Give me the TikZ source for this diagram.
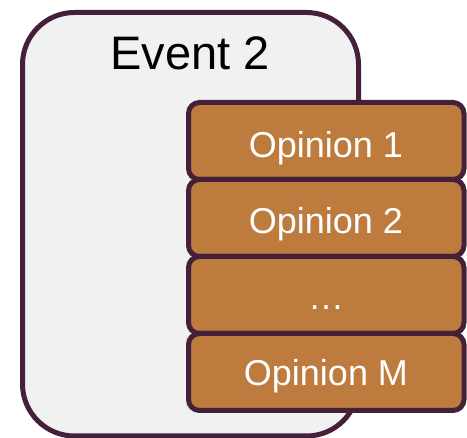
\documentclass[tikz,border=0pt]{standalone}
\usepackage{fontspec}
\setmainfont{Liberation Sans}
\definecolor{edgecol}{RGB}{68,32,58}
\definecolor{opbrown}{RGB}{189,124,62}
\definecolor{evgrey}{RGB}{241,241,241}
\begin{document}
\begin{tikzpicture}[x=1pt,y=-1pt,
  eventbox/.style={draw=edgecol, fill=evgrey, line width=5pt, rounded corners=52pt, inner sep=0pt, minimum width=336pt, minimum height=423.5pt},
  opbox/.style={draw=edgecol, fill=opbrown, line width=5pt, rounded corners=11pt, inner sep=0pt, minimum width=275.5pt, minimum height=77pt},
  optext/.style={text=white, font=\fontsize{36}{40}\selectfont, anchor=base, inner sep=0pt},
  evtext/.style={text=black, font=\fontsize{47}{52}\selectfont, anchor=base, inner sep=0pt}]
\useasboundingbox (0,0) rectangle (467,438);
\node[eventbox] (event) at (190.5,224.25) {};
\node[evtext] (eventlabel) at (190,69.5) {Event 2};
\node[opbox] (op1) at (326.25,141) {};
\node[opbox] (op2) at (326.25,218) {};
\node[opbox] (op3) at (326.25,295) {};
\node[opbox] (op4) at (326.25,372) {};
\node[optext] (op1t) at (326,158) {Opinion 1};
\node[optext] (op2t) at (326,234) {Opinion 2};
\node[optext] (op3t) at (326,310) {…};
\node[optext] (op4t) at (326,386) {Opinion M};
\end{tikzpicture}
\end{document}
